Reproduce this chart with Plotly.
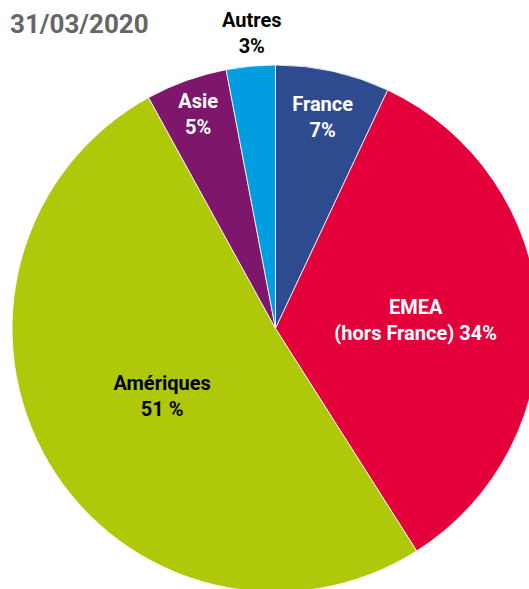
import plotly.graph_objects as go

regions = ["France", "EMEA (hors France)", "Amériques", "Asie", "Autres"]
shares = [7, 34, 51, 5, 3]
slice_texts = ["France<br>7%", "EMEA<br>(hors France) 34%", "Amériques<br>51 %", "Asie<br>5%", ""]
outside_label = "Autres<br>3%"
colors = ["#2F4B8F", "#E4003A", "#AFC90A", "#7E176B", "#009EE0"]
text_colors = ["white", "white", "black", "white", "black"]
date_label = "31/03/2020"

W, H = 539, 592
ML, MT = 12, 65

fig = go.Figure(go.Pie(
    labels=regions,
    values=shares,
    text=slice_texts,
    textinfo="text",
    textposition="inside",
    insidetextorientation="horizontal",
    sort=False,
    direction="clockwise",
    rotation=0,
    marker=dict(colors=colors, line=dict(color="white", width=0.8)),
    textfont=dict(family="Roboto", size=20, color=text_colors, weight="bold"),
    showlegend=False,
    hoverinfo="label+percent",
))

fig.add_annotation(
    text=outside_label, showarrow=False,
    xref="paper", yref="paper",
    x=(252 - ML) / (W - ML), y=1 + (MT - 33) / (H - MT),
    xanchor="center", yanchor="middle",
    font=dict(family="Roboto", size=20, color="black", weight="bold"),
)

fig.update_layout(
    width=W, height=H,
    margin=dict(l=ML, r=0, t=MT, b=0),
    paper_bgcolor="white",
    uniformtext=dict(minsize=20, mode="show"),
    title=dict(
        text=date_label,
        font=dict(family="Roboto", size=26, color="#666666", weight="bold"),
        xref="container", yref="container",
        x=10 / W, xanchor="left",
        y=1 - 24 / H, yanchor="middle",
    ),
)

fig.write_html(
    "out.html",
    config={"displayModeBar": False},
    post_script="document.body.style.margin='0';document.body.style.overflow='hidden';",
)
